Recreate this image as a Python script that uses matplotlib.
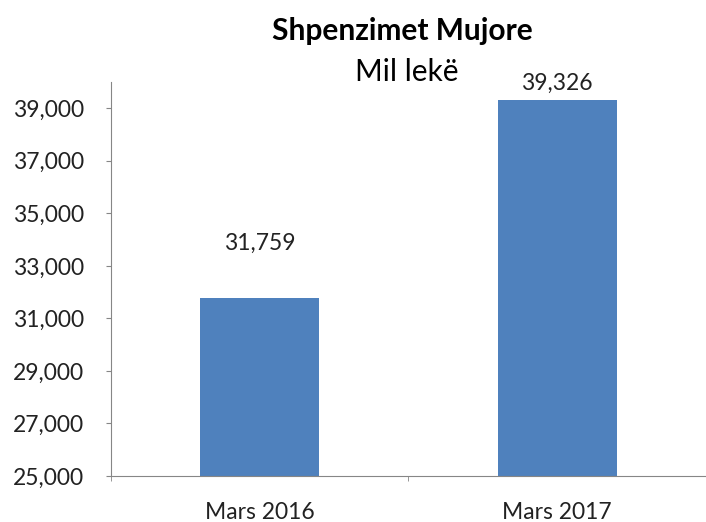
import matplotlib.pyplot as plt
from matplotlib.ticker import FuncFormatter

kategorite = ["Mars 2016", "Mars 2017"]
vlerat = [31759, 39326]
# Excel put the value labels at uneven heights above the bars (points)
label_offset = [35, 7]
yticks = [25000, 27000, 29000, 31000, 33000, 35000, 37000, 39000]

plt.rcParams['font.family'] = ['Lato', 'DejaVu Sans']

fig = plt.figure(figsize=(7.06, 5.22), dpi=100)
ax = fig.add_axes([0.1572, 0.0881, 0.8428, 0.7548])

x = list(range(len(kategorite)))
bars = ax.bar(x, vlerat, width=0.4, color="#4F81BD")

for b, v, off in zip(bars, vlerat, label_offset):
    ax.annotate(f"{v:,}", (b.get_x() + b.get_width() / 2, v),
                xytext=(0, off), textcoords="offset points",
                ha="center", va="baseline", fontsize=16.5, color="#222222")

ax.set_ylim(25000, 40000)
ax.set_xlim(-0.5, len(kategorite) - 0.5)
ax.set_yticks(yticks)
ax.yaxis.set_major_formatter(FuncFormatter(lambda v, p: f"{int(v):,}"))
ax.set_xticks(x)
ax.set_xticklabels(kategorite)
ax.set_xticks([i - 0.5 for i in range(len(kategorite) + 1)], minor=True)

ax.tick_params(axis="x", which="major", length=0, labelsize=16.5, pad=19,
               labelcolor="#222222")
ax.tick_params(axis="x", which="minor", length=3.6, color="#868686", direction="out")
ax.tick_params(axis="y", length=3.6, color="#868686", labelsize=16.5, pad=15.5,
               labelcolor="#222222")

for s in ["top", "right"]:
    ax.spines[s].set_visible(False)
for s in ["left", "bottom"]:
    ax.spines[s].set_color("#868686")

fig.text(0.570, 0.9234, "Shpenzimet Mujore", ha="center", va="baseline",
         fontsize=21.5, fontweight="bold")
fig.text(0.576, 0.845, "Mil lekë", ha="center", va="baseline", fontsize=21.5)

fig.savefig("out.png", dpi=100)
